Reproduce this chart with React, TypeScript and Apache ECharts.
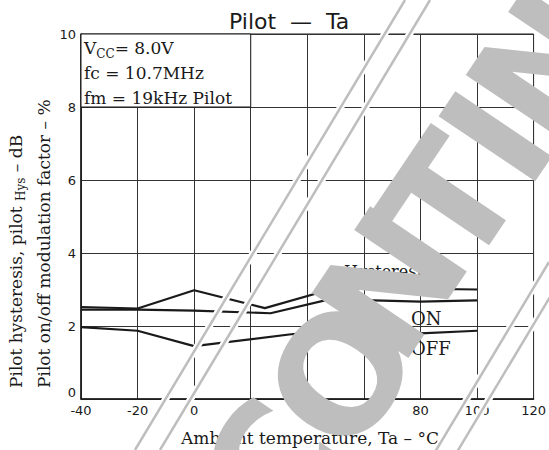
import React, { useEffect, useRef } from 'react';
import * as echarts from 'echarts';

// ---- data ----
const xTickValues = [-40, -20, 0, 20, 40, 60, 80, 100, 120];
const yTickValues = [0, 2, 4, 6, 8, 10];

const hysTemps = [-40, -20, 0, 25, 50, 80, 100];
const hysValues = [2.52, 2.48, 2.98, 2.49, 3.04, 3.02, 3.0];

const onTemps = [-40, -20, 0, 27, 50, 60, 80, 100];
const onValues = [2.45, 2.45, 2.42, 2.35, 2.77, 2.71, 2.67, 2.7];

const offTemps = [-40, -20, 0, 35, 60, 80, 100];
const offValues = [1.97, 1.87, 1.45, 1.78, 1.95, 1.8, 1.87];

// condition box spans these data ranges
const boxX = [-40, 20];
const boxY = [8, 10];

const titleText = 'Pilot  —  Ta';
const xName = 'Ambient temperature, Ta – °C';
const yName1a = 'Pilot hysteresis, pilot ';
const yName1sub = 'Hys';
const yName1b = ' – dB';
const yName2 = 'Pilot on/off modulation factor – %';
const conditionLines = ['= 8.0V', 'fc = 10.7MHz', 'fm = 19kHz Pilot'];
const watermarkLetters = ['C', 'O', 'N', 'T', 'I', 'N'];

const SERIF = '"DejaVu Serif"';
const SANS = '"DejaVu Sans"';
const INK = '#1a1a1a';
const GRAY = '#bebebe';

function pairs(xs: number[], ys: number[]) {
  return xs.map((x, i) => [x, ys[i]]);
}

export default function App() {
  const ref = useRef<HTMLDivElement>(null);
  useEffect(() => {
    if (!ref.current) return;
    const chart = echarts.init(ref.current, undefined, { renderer: 'svg' });
    const lineStyle = { color: INK, width: 2.2 };
    chart.setOption({
      animation: false,
      backgroundColor: '#fff',
      title: {
        text: titleText,
        left: 224,
        top: 5,
        textStyle: { fontFamily: SANS, fontSize: 22, fontWeight: 'normal', color: INK },
      },
      grid: { left: 81, right: 14, top: 34, bottom: 51, show: true, borderColor: INK, borderWidth: 1 },
      xAxis: {
        type: 'value',
        min: xTickValues[0],
        max: xTickValues[xTickValues.length - 1],
        interval: 20,
        axisLine: { show: true, onZero: false, lineStyle: { color: INK, width: 1.5 } },
        axisTick: { show: false },
        axisLabel: { color: INK, fontFamily: SANS, fontSize: 13, margin: 5 },
        splitLine: { show: true, lineStyle: { color: '#333', width: 1 } },
      },
      yAxis: {
        type: 'value',
        min: yTickValues[0],
        max: yTickValues[yTickValues.length - 1],
        interval: 2,
        axisLine: { show: true, onZero: false, lineStyle: { color: INK, width: 1.5 } },
        axisTick: { show: false },
        axisLabel: {
          color: INK,
          fontFamily: SANS,
          fontSize: 13,
          margin: 5,
          formatter: (v: number) => (v === 0 ? '{z|0}' : String(v)),
          rich: { z: { fontFamily: SANS, fontSize: 13, color: INK, padding: [0, 0, 14, 0] } },
        },
        splitLine: { show: true, lineStyle: { color: '#333', width: 1 } },
      },
      series: [
        { type: 'line', name: 'Hysteresis', data: pairs(hysTemps, hysValues), symbol: 'none', lineStyle },
        { type: 'line', name: 'ON', data: pairs(onTemps, onValues), symbol: 'none', lineStyle },
        { type: 'line', name: 'OFF', data: pairs(offTemps, offValues), symbol: 'none', lineStyle },
      ],
    });

    const tl = chart.convertToPixel({ gridIndex: 0 }, [boxX[0], boxY[1]]) as number[];
    const br = chart.convertToPixel({ gridIndex: 0 }, [boxX[1], boxY[0]]) as number[];

    const diag = (x1: number, y1: number, x2: number, y2: number) => [
      { type: 'line', z: 101, shape: { x1, y1, x2, y2 }, style: { stroke: '#fff', lineWidth: 7 } },
      { type: 'line', z: 102, shape: { x1, y1, x2, y2 }, style: { stroke: GRAY, lineWidth: 2.5 } },
    ];

    // placement of the scanned "CONTINUED" stamp letters (layout only)
    const stampCenters = [
      [272, 468],
      [343, 375],
      [392, 284],
      [452, 202],
      [498, 138],
      [546, 66],
    ];
    const stamp = watermarkLetters.map((ch, i) => ({
      type: 'text',
      z: 110,
      x: stampCenters[i][0],
      y: stampCenters[i][1],
      rotation: (56 * Math.PI) / 180,
      style: { text: ch, fill: GRAY, font: 'bold 160px ' + SANS, align: 'center', verticalAlign: 'middle' },
    }));

    chart.setOption({
      graphic: [
        {
          type: 'rect',
          z: 1,
          shape: { x: tl[0], y: tl[1], width: br[0] - tl[0], height: br[1] - tl[1] },
          style: { fill: '#fff', stroke: INK, lineWidth: 1 },
        },
        {
          type: 'text',
          z: 2,
          x: tl[0] + 3,
          y: tl[1] + 1,
          style: {
            text:
              '{t|V}{s|CC}{t|' + conditionLines[0] + '}\n{t|' + conditionLines[1] + '}\n{t|' + conditionLines[2] + '}',
            align: 'left',
            verticalAlign: 'top',
            rich: {
              t: { fontFamily: SERIF, fontSize: 17, fill: INK, lineHeight: 25, verticalAlign: 'middle' },
              s: { fontFamily: SERIF, fontSize: 12, fill: INK, lineHeight: 12, verticalAlign: 'bottom' },
            },
          },
        },
        {
          type: 'text',
          x: 310,
          y: 438,
          style: { text: xName, fill: INK, font: '17px ' + SERIF, align: 'center', verticalAlign: 'middle' },
        },
        {
          type: 'text',
          x: 16,
          y: 388,
          rotation: Math.PI / 2,
          style: {
            text: '{a|' + yName1a + '}{s|' + yName1sub + '}{a|' + yName1b + '}',
            align: 'left',
            verticalAlign: 'middle',
            rich: {
              a: { fontFamily: SERIF, fontSize: 17, fill: INK, lineHeight: 22, verticalAlign: 'middle' },
              s: { fontFamily: SERIF, fontSize: 12, fill: INK, lineHeight: 12, verticalAlign: 'bottom' },
            },
          },
        },
        {
          type: 'text',
          x: 44,
          y: 388,
          rotation: Math.PI / 2,
          style: { text: yName2, fill: INK, font: '17px ' + SERIF, align: 'left', verticalAlign: 'middle' },
        },
        {
          type: 'text',
          x: 344,
          y: 271,
          style: { text: 'Hysteresis', fill: INK, font: '16px ' + SERIF, align: 'left', verticalAlign: 'middle' },
        },
        {
          type: 'text',
          x: 411,
          y: 318,
          style: { text: 'ON', fill: INK, font: '18px ' + SERIF, align: 'left', verticalAlign: 'middle' },
        },
        {
          type: 'text',
          x: 411,
          y: 348,
          style: { text: 'OFF', fill: INK, font: '18px ' + SERIF, align: 'left', verticalAlign: 'middle' },
        },
        ...diag(405, 0, 135, 450),
        ...diag(430, 0, 160, 450),
        ...diag(549, 262, 435, 452),
        ...diag(571, 262, 457, 452),
        ...stamp,
      ],
    });
    return () => chart.dispose();
  }, []);
  return <div ref={ref} style={{ position: 'fixed', left: 0, top: 0, width: 549, height: 450 }} />;
}
